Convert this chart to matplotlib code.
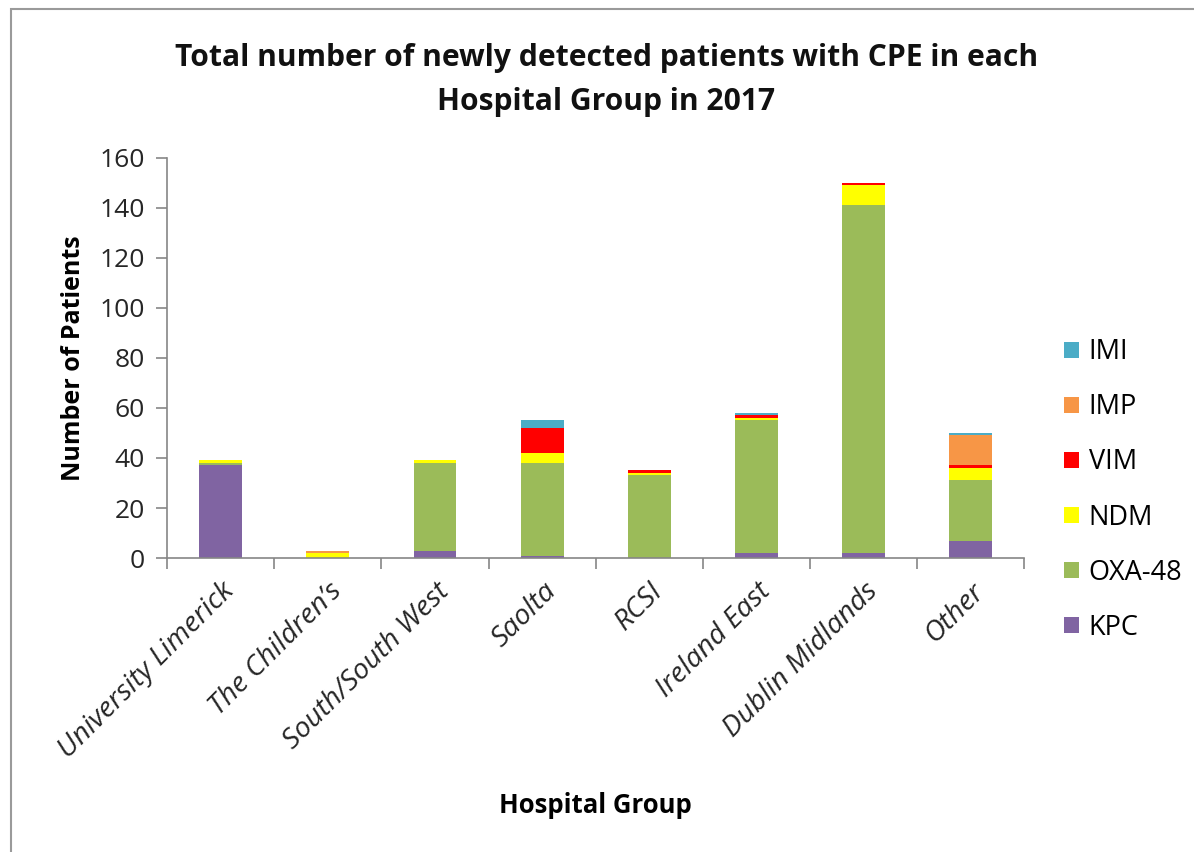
import matplotlib.pyplot as plt
import matplotlib.patches as mpatches
import numpy as np

plt.rcParams["font.family"] = ["Open Sans", "DejaVu Sans"]

groups = ["University Limerick", "The Children\u2019s", "South/South West", "Saolta",
          "RCSI", "Ireland East", "Dublin Midlands", "Other"]
kpc = [37, 0, 3, 1, 0, 2, 2, 7]
oxa48 = [1, 0, 35, 37, 33, 53, 139, 24]
ndm = [1, 2, 1, 4, 1, 1, 8, 5]
vim = [0, 0, 0, 10, 1, 1, 1, 1]
imp = [0, 1, 0, 0, 0, 0, 0, 12]
imi = [0, 0, 0, 3, 0, 1, 0, 1]

series = [("KPC", kpc, "#8064A2"), ("OXA-48", oxa48, "#9BBB59"),
          ("NDM", ndm, "#FFFF00"), ("VIM", vim, "#FF0000"),
          ("IMP", imp, "#F79646"), ("IMI", imi, "#4BACC6")]

fig = plt.figure(figsize=(11.94, 8.52), dpi=100)
ax = fig.add_axes([0.140, 0.345, 0.718, 0.470])

x = np.arange(len(groups))
bottom = np.zeros(len(groups))
for name, vals, color in series:
    ax.bar(x, vals, width=0.4, bottom=bottom, color=color, label=name, linewidth=0)
    bottom += np.array(vals)

axis_grey = "#868686"
ax.set_xlim(-0.5, len(groups) - 0.5)
ax.set_ylim(0, 160)
ax.set_yticks(range(0, 161, 20))
ax.set_xticks(np.arange(-0.5, len(groups), 1.0), minor=False)
ax.set_xticklabels([])
ax.set_xticks(x, minor=True)
ax.set_xticklabels(groups, minor=True, rotation=45, ha="right", rotation_mode="anchor",
                   fontsize=20.5, style="italic", color="#262626")
ax.tick_params(axis="x", which="minor", length=0, pad=14)
ax.tick_params(axis="x", which="major", length=8, color=axis_grey, width=1.2)
ax.tick_params(axis="y", length=8, color=axis_grey, width=1.2, labelsize=19,
               labelcolor="#262626", pad=8)
for side in ["top", "right"]:
    ax.spines[side].set_visible(False)
for side in ["left", "bottom"]:
    ax.spines[side].set_color(axis_grey)
    ax.spines[side].set_linewidth(1.2)

ax.set_ylabel("Number of Patients", fontsize=18, fontweight="bold", labelpad=10)
ax.set_xlabel("Hospital Group", fontsize=18.5, fontweight="bold", labelpad=20)

fig.text(0.508, 0.906, "Total number of newly detected patients with CPE in each\nHospital Group in 2017",
         ha="center", va="center", fontsize=21.6, fontweight="bold", linespacing=1.6,
         color="#111111")

handles, labels = ax.get_legend_handles_labels()
ax.legend(handles[::-1], labels[::-1], loc="center left", bbox_to_anchor=(1.018, 0.17),
          frameon=False, fontsize=19.5, handlelength=0.55, handleheight=0.55,
          labelspacing=1.0, handletextpad=0.35)

fig.add_artist(mpatches.Rectangle((0.009, -0.01), 1.2, 0.999, transform=fig.transFigure,
                                  fill=False, edgecolor="#9a9a9a", linewidth=1.5))

fig.savefig("out.png", dpi=100)
